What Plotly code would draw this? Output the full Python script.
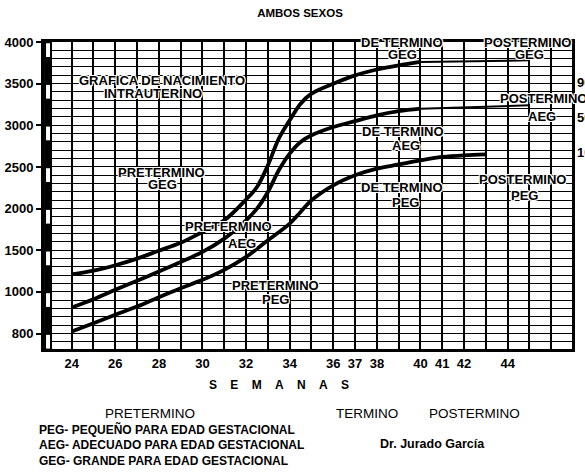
import numpy as np
import plotly.graph_objects as go

# ---------------- data ----------------
Y_TICK_GRAMS = [800, 1000, 1500, 2000, 2500, 3000, 3500, 4000]
Y_TICK_POS = [0, 5, 10, 15, 20, 25, 30, 35]
Y_TICK_TEXT = ["800", "1000", "1500", "2000", "2500", "3000", "3500", "4000"]
X_TICKS = [24, 26, 28, 30, 32, 34, 36, 37, 38, 40, 41, 42, 44]

WEEKS_GEG = [24, 25, 26, 27, 28, 29, 30, 31, 32, 32.5, 33, 33.5, 34, 34.5, 35, 36, 37, 38, 39, 40]
GEG = [1210, 1255, 1320, 1400, 1495, 1590, 1720, 1860, 2110, 2260, 2520, 2840, 3060, 3260, 3380,
       3500, 3600, 3670, 3720, 3760]
WEEKS_GEG_TAIL = [40, 45]
GEG_TAIL = [3760, 3780]

WEEKS_AEG = [24, 25, 26, 27, 28, 29, 30, 31, 32, 32.5, 33, 33.5, 34, 34.5, 35, 36, 37, 38, 39, 40]
AEG = [925, 965, 1025, 1135, 1245, 1360, 1480, 1640, 1860, 2000, 2200, 2460, 2660, 2800, 2880,
       2980, 3050, 3120, 3170, 3200]
WEEKS_AEG_TAIL = [40, 45]
AEG_TAIL = [3200, 3240]

WEEKS_PEG = [24, 25, 26, 27, 28, 29, 30, 31, 32, 33, 34, 34.5, 35, 36, 37, 38, 39, 40, 41, 42, 43]
PEG = [810, 850, 890, 930, 975, 1045, 1145, 1265, 1420, 1620, 1820, 1960, 2100, 2280, 2400,
       2480, 2530, 2580, 2620, 2640, 2650]


def ypos(grams):
    return np.interp(grams, Y_TICK_GRAMS, Y_TICK_POS)


W, H = 585, 472
L, R, T, B = 44, 13, 42, 123
PW, PH = W - L - R, H - T - B
X_RANGE = [22.73, 46.95]
Y_RANGE = [-1.85, 35]

fig = go.Figure()

# left striped strip (black with white dashes under each major tick)
strip_x = 22.915
fig.add_trace(go.Bar(x=[strip_x], y=[Y_RANGE[1] - Y_RANGE[0]], base=[Y_RANGE[0]], width=[0.366],
                     marker=dict(color="black", line=dict(width=0)), hoverinfo="skip"))
fig.add_trace(go.Bar(x=[strip_x] * len(Y_TICK_POS), y=[1.65] * len(Y_TICK_POS),
                     base=[p - 1.8 for p in Y_TICK_POS], width=[0.183] * len(Y_TICK_POS),
                     marker=dict(color="white", line=dict(width=0)), hoverinfo="skip"))

line_thick = dict(color="black", width=3.8, shape="spline", smoothing=1.0)
line_thin = dict(color="black", width=2)
for wk, g in [(WEEKS_GEG, GEG), (WEEKS_AEG, AEG), (WEEKS_PEG, PEG)]:
    fig.add_trace(go.Scatter(x=wk, y=ypos(g), mode="lines", line=line_thick))
for wk, g in [(WEEKS_GEG_TAIL, GEG_TAIL), (WEEKS_AEG_TAIL, AEG_TAIL)]:
    fig.add_trace(go.Scatter(x=wk, y=ypos(g), mode="lines", line=line_thin))

FONT = "Liberation Sans, Arial, sans-serif"
HALO = "1px 1px 0 #fff, -1px -1px 0 #fff, 1px -1px 0 #fff, -1px 1px 0 #fff"


def px2paper(x, y):
    return (x - L) / PW, (H - B - y) / PH


def add_text(text, x, y, size=13, bold=True, anchor="center", halo=False):
    xp, yp = px2paper(x, y)
    f = dict(family=FONT, size=size, color="black", weight="bold" if bold else "normal")
    if halo:
        f["shadow"] = HALO
    fig.add_annotation(text=text, x=xp, y=yp, xref="paper", yref="paper", showarrow=False,
                       xanchor=anchor, yanchor="middle", font=f)


# labels inside the chart
inner = [
    ("GRAFICA DE NACIMIENTO", 162, 80), ("INTRAUTERINO", 153, 94),
    ("PRETERMINO", 161, 172), ("GEG", 162, 184),
    ("PRETERMINO", 228, 226), ("AEG", 242, 243),
    ("PRETERMINO", 275, 285), ("PEG", 275, 299.5),
    ("DE TERMINO", 402, 42), ("GEG", 402, 54),
    ("POSTERMINO", 527, 42), ("GEG", 529, 54),
    ("DE TERMINO", 403, 131), ("AEG", 406, 145),
    ("POSTERMINO", 543, 98), ("AEG", 542, 116),
    ("DE TERMINO", 402, 187), ("PEG", 405, 202),
    ("POSTERMINO", 522, 179), ("PEG", 524, 195),
]
for t, x, y in inner:
    add_text(t, x, y, size=13, halo=True)

for t, y in [("90", 83), ("50", 117), ("10", 152)]:
    add_text(t, 575, y, size=13, anchor="left")

# texts below chart
add_text("S\u00a0\u00a0\u00a0\u00a0E\u00a0\u00a0\u00a0\u00a0M\u00a0\u00a0\u00a0\u00a0A\u00a0\u00a0\u00a0\u00a0N\u00a0\u00a0\u00a0\u00a0A\u00a0\u00a0\u00a0\u00a0S",
         279, 385, size=12)
add_text("PRETERMINO", 150, 413, size=13.5, bold=False)
add_text("TERMINO", 367, 413, size=13.5, bold=False)
add_text("POSTERMINO", 474, 413, size=13.5, bold=False)
add_text("PEG- PEQUEÑO PARA EDAD GESTACIONAL", 37, 429.3, size=12, anchor="left")
add_text("AEG- ADECUADO PARA EDAD GESTACIONAL", 37, 445, size=12, anchor="left")
add_text("GEG- GRANDE PARA EDAD GESTACIONAL", 37, 460.7, size=12, anchor="left")
add_text("Dr. Jurado García", 432, 444, size=12.5)

fig.update_layout(
    width=W, height=H,
    margin=dict(l=L, r=R, t=T, b=B, pad=0, autoexpand=False),
    paper_bgcolor="white", plot_bgcolor="white",
    showlegend=False, barmode="overlay",
    title=dict(text="AMBOS SEXOS", x=300 / W, xanchor="center", y=1 - 13 / H, yanchor="middle",
               yref="container", automargin=False,
               font=dict(family=FONT, size=11.5, color="black", weight="bold")),
    font=dict(family=FONT, color="black"),
)
fig.update_xaxes(
    range=X_RANGE, tickmode="array", tickvals=X_TICKS, ticktext=[str(v) for v in X_TICKS],
    ticks="", showgrid=True, gridcolor="black", gridwidth=2.2, automargin=False,
    minor=dict(tickmode="linear", tick0=0, dtick=1, showgrid=True, gridcolor="black", gridwidth=2.2, ticks=""),
    showline=True, linecolor="black", linewidth=3, mirror=True, zeroline=False,
    tickfont=dict(family=FONT, size=13, color="black", weight="bold"),
)
fig.update_yaxes(
    range=Y_RANGE, tickmode="array", tickvals=Y_TICK_POS, ticktext=Y_TICK_TEXT,
    ticks="outside", ticklen=5, tickwidth=2, tickcolor="black", automargin=False,
    showgrid=True, gridcolor="black", gridwidth=1.3,
    minor=dict(tickmode="linear", tick0=0, dtick=1, showgrid=True, gridcolor="black", gridwidth=1.3, ticks=""),
    showline=True, linecolor="black", linewidth=3, mirror=True, zeroline=False,
    tickfont=dict(family=FONT, size=13, color="black", weight="bold"),
)

fig.write_html("out.html", config={"displayModeBar": False},
               post_script="document.body.style.margin='0';document.body.style.padding='0';")
